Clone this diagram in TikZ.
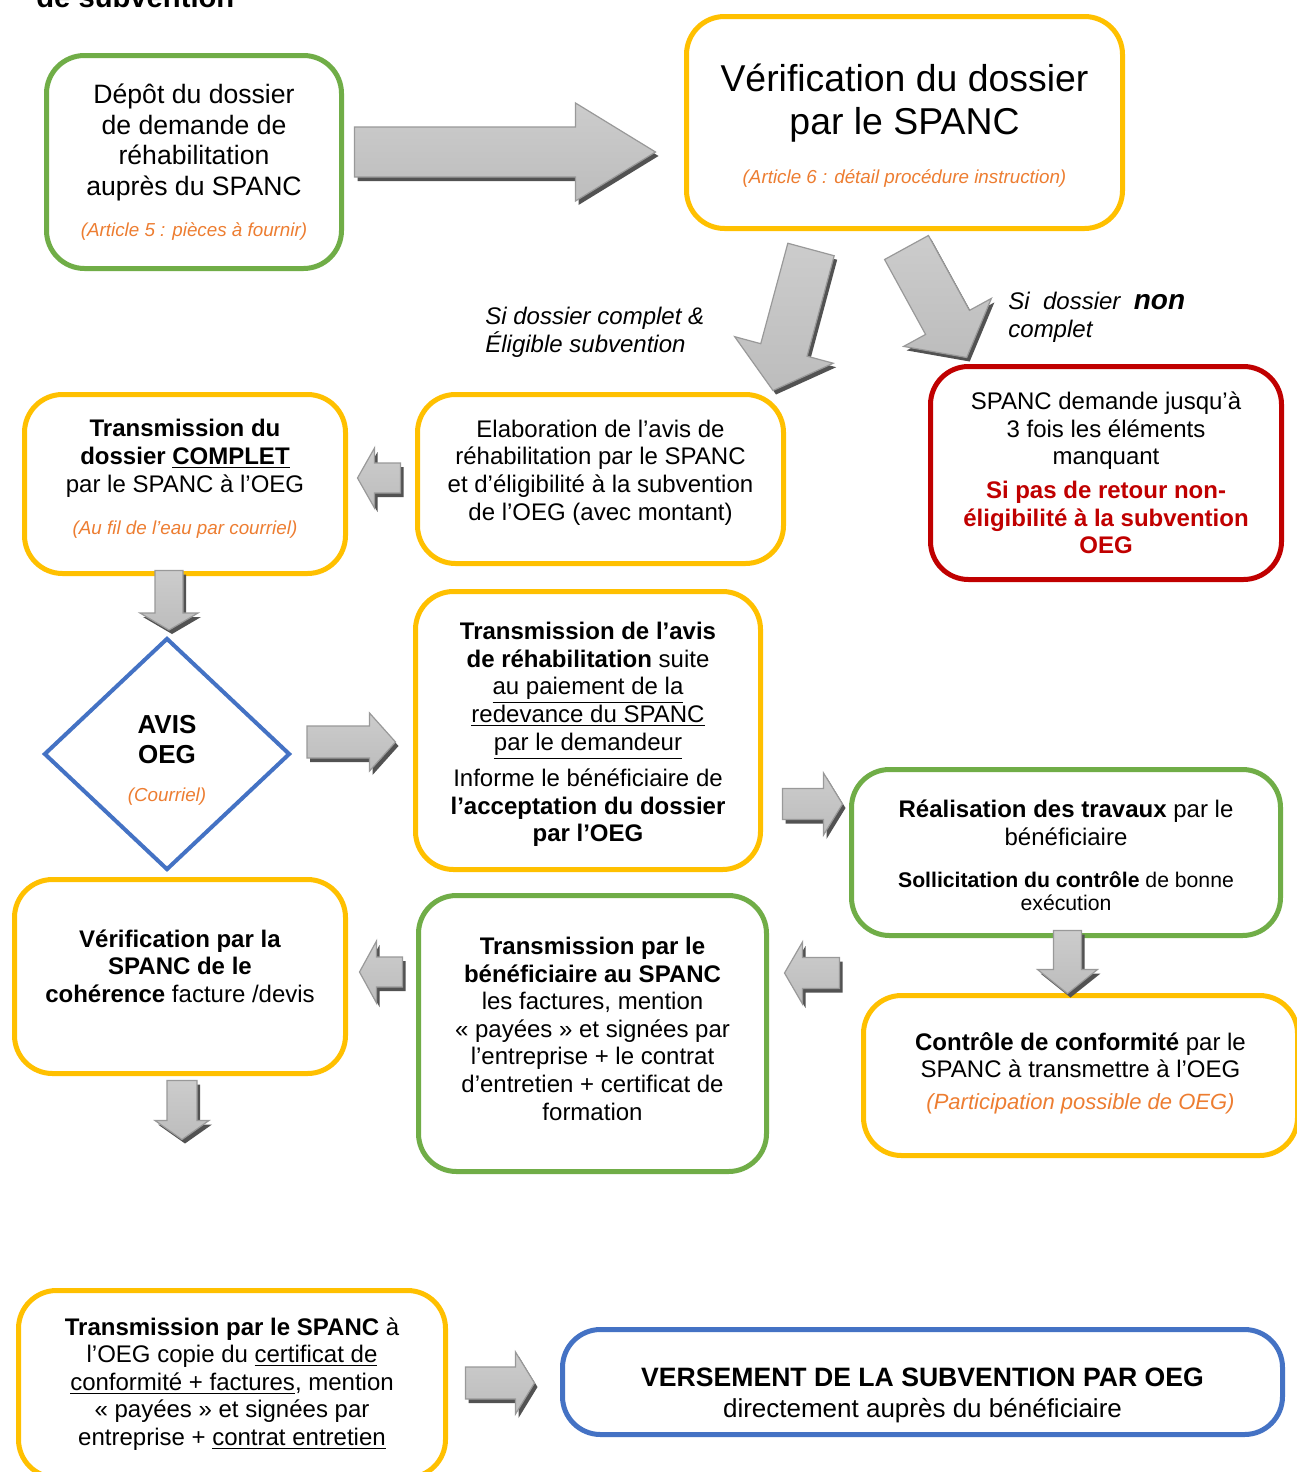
\documentclass[tikz,border=0pt]{standalone}
\usepackage{fontspec}
\setmainfont{Liberation Sans}
\usepackage{tikz}
\usetikzlibrary{calc,positioning,shapes.geometric}
\definecolor{spyellow}{HTML}{FFC000}
\definecolor{spgreen}{HTML}{70AD47}
\definecolor{spblue}{HTML}{4472C4}
\definecolor{spred}{HTML}{C00000}
\definecolor{sporange}{HTML}{ED7D31}
\tikzset{font=\fontsize{12}{13.8}\selectfont}
\tikzstyle{box}=[draw,line width=2.5pt,rounded corners=19pt,align=center,inner sep=2pt,fill=white]
\tikzstyle{ybox}=[box,draw=spyellow]
\tikzstyle{gbox}=[box,draw=spgreen]
\tikzstyle{bbox}=[box,draw=spblue]
\tikzstyle{rbox}=[box,draw=spred]
\tikzstyle{lbl}=[font=\itshape\fontsize{12}{14}\selectfont,align=left,inner sep=0pt]
\tikzstyle{arrowshadow}=[fill=black!68]
\tikzstyle{arrowbody}=[draw=black!40,line width=0.6pt,top color=black!20,middle color=black!36,bottom color=black!26]
\newcommand{\art}[1]{{\color{sporange}\mdseries\itshape\fontsize{9.4}{11}\selectfont #1}}
\newcommand{\rtxt}[1]{{\color{spred}\bfseries #1}}
% struts that move a text up or down in its box
\newcommand{\topht}[1]{\rule{0pt}{#1}}
\newcommand{\botdp}[1]{\rule[-#1]{0pt}{0pt}}
\newcommand{\bigarrow}[5]{%
  \coordinate (ah) at ($(#2)!#5!(#1)$);
  \fill[arrowshadow] ($(#1)!#3!90:(#2)+(1.5pt,-2pt)$) -- ($(ah)!#3!90:(#2)+(1.5pt,-2pt)$)
    -- ($(ah)!#4!90:(#2)+(1.5pt,-2pt)$) -- ($(#2)+(1.5pt,-2pt)$)
    -- ($(ah)!#4!-90:(#2)+(1.5pt,-2pt)$) -- ($(ah)!#3!-90:(#2)+(1.5pt,-2pt)$)
    -- ($(#1)!#3!-90:(#2)+(1.5pt,-2pt)$) -- cycle;
  \path[arrowbody] ($(#1)!#3!90:(#2)$) -- ($(ah)!#3!90:(#2)$) -- ($(ah)!#4!90:(#2)$) -- (#2)
    -- ($(ah)!#4!-90:(#2)$) -- ($(ah)!#3!-90:(#2)$) -- ($(#1)!#3!-90:(#2)$) -- cycle;
}

\begin{document}
\begin{tikzpicture}[x=0.5pt,y=-0.5pt]
\useasboundingbox (0,0) rectangle (1296,1472);
\fill[white] (0,0) rectangle (1296,1472);
\node[anchor=base west,inner sep=0pt,font=\bfseries\fontsize{14.6}{17}\selectfont] (titre) at (36,7) {de subvention};

\node[gbox,minimum width=147.5pt,minimum height=106.5pt,font=\fontsize{13.3}{15.3}\selectfont] (depot) at (194,162)
  {Dépôt du dossier\\de demande de\\réhabilitation\\auprès du SPANC\\[5pt]\art{(Article 5 : pièces à fournir)}};
\node[ybox,minimum width=218pt,minimum height=106pt,font=\fontsize{18.7}{21.5}\selectfont] (verif) at (904.5,122.5)
  {\topht{17pt}Vérification du dossier\\par le SPANC\\[3pt]\art{(Article 6 : détail procédure instruction)}};
\node[rbox,minimum width=175.5pt,minimum height=106.5pt] (manque) at (1106,473)
  {SPANC demande jusqu’à\\3 fois les éléments\\manquant\\[3pt]\rtxt{Si pas de retour non-}\\\rtxt{éligibilité à la subvention}\\\rtxt{OEG}};
\node[ybox,minimum width=183pt,minimum height=84.5pt] (elab) at (600.5,479)
  {Elaboration de l’avis de\\réhabilitation par le SPANC\\et d’éligibilité à la subvention\\de l’OEG (avec montant)\botdp{9pt}};
\node[ybox,minimum width=160.5pt,minimum height=89.5pt] (complet) at (185,484)
  {\textbf{Transmission du}\\\textbf{dossier \underline{COMPLET}}\\par le SPANC à l’OEG\\[7.5pt]\art{(Au fil de l’eau par courriel)}\botdp{7pt}};
\node[diamond,draw=spblue,line width=2pt,fill=white,inner sep=0pt,minimum width=123pt,minimum height=116pt,align=center,
  font=\bfseries\fontsize{13}{15}\selectfont] (avis) at (167,754) {\topht{15.3pt}AVIS\\OEG\\[4pt]\art{(Courriel)}};
\node[ybox,minimum width=172.5pt,minimum height=139pt] (transav) at (588,730.5)
  {\topht{12.8pt}\textbf{Transmission de l’avis}\\\textbf{de réhabilitation} suite\\\underline{au paiement de la}\\\underline{redevance du SPANC}\\\underline{par le demandeur}\\[4.5pt]Informe le bénéficiaire de\\\textbf{l’acceptation du dossier}\\\textbf{par l’OEG}};
\node[gbox,minimum width=214.5pt,minimum height=83pt] (realis) at (1066,852.5)
  {\topht{11.9pt}\textbf{Réalisation des travaux} par le\\bénéficiaire\\[7pt]{\fontsize{10.6}{12}\selectfont\textbf{Sollicitation du contrôle} de bonne}\\[-2pt]{\fontsize{10.6}{12}\selectfont exécution}};
\node[ybox,minimum width=217pt,minimum height=80pt] (controle) at (1080.5,1075.5)
  {\textbf{Contrôle de conformité} par le\\SPANC à transmettre à l’OEG\\[2pt]{\color{sporange}\itshape\fontsize{11}{13}\selectfont (Participation possible de OEG)}\botdp{4.8pt}};
\node[gbox,minimum width=174pt,minimum height=138pt] (transben) at (592.5,1033.5)
  {\textbf{Transmission par le}\\\textbf{bénéficiaire au SPANC}\\les factures, mention\\« payées » et signées par\\l’entreprise + le contrat\\d’entretien + certificat de\\formation\botdp{5pt}};
\node[ybox,minimum width=165.5pt,minimum height=97pt] (verifsp) at (180,976.5)
  {\textbf{Vérification par la}\\\textbf{SPANC de le}\\\textbf{cohérence} facture /devis\botdp{10.4pt}};
\node[ybox,minimum width=213.5pt,minimum height=93.5pt] (transfin) at (232,1384)
  {\textbf{Transmission par le SPANC} à\\l’OEG copie du \underline{certificat de}\\\underline{conformité + factures}, mention\\« payées » et signées par\\entreprise + \underline{contrat entretien}};
\node[bbox,minimum width=360pt,minimum height=52.5pt,font=\fontsize{13.3}{15.5}\selectfont] (versement) at (922.5,1382)
  {\topht{22.6pt}\textbf{VERSEMENT DE LA SUBVENTION PAR OEG}\\{\fontsize{13}{15.5}\selectfont directement auprès du bénéficiaire}};

\node[lbl,anchor=west] (oui) at (485,332) {Si dossier complet \&\\Éligible subvention};
\node[lbl,anchor=west] (non) at (1008,317) {Si\ \ dossier\ \ {\bfseries\fontsize{14}{14}\selectfont non}\\complet};

\coordinate (a1s) at ($(depot.east)+(10.5,-10)$);
\coordinate (a1e) at ($(verif.west)+(-28.5,29.5)$);
\coordinate (a2s) at ($(verif.south)+(-93.5,18.5)$);
\coordinate (a2e) at ($(elab.north)+(172.5,-1.5)$);
\coordinate (a3s) at ($(verif.south)+(2,16.5)$);
\coordinate (a3e) at ($(manque.north)+(-139.3,-6.5)$);
\coordinate (a4s) at ($(elab.west)+(-14.5,-1)$);
\coordinate (a4e) at ($(complet.east)+(9.5,-6)$);
\coordinate (a5s) at ($(complet.south)+(-16,-5.5)$);
\coordinate (a5e) at ($(avis.north)+(2,-6)$);
\coordinate (a6s) at ($(avis.east)+(15,-12)$);
\coordinate (a6e) at ($(transav.west)+(-17.5,11.5)$);
\coordinate (a7s) at ($(transav.east)+(19.5,73.5)$);
\coordinate (a7e) at ($(realis.west)+(-6.5,-48.5)$);
\coordinate (a8s) at ($(realis.south)+(1.5,-7.5)$);
\coordinate (a8e) at ($(controle.north)+(-13,0.5)$);
\coordinate (a9s) at ($(controle.west)+(-21.5,-102.5)$);
\coordinate (a9e) at ($(transben.east)+(15.5,-60.5)$);
\coordinate (a10s) at ($(transben.west)+(-13.5,-61.5)$);
\coordinate (a10e) at ($(verifsp.east)+(11.5,-4.5)$);
\coordinate (a11s) at ($(verifsp.south)+(2,4.5)$);
\coordinate (a11e) at ($(verifsp.south)+(2,63.5)$);
\coordinate (a12s) at ($(transfin.east)+(17.5,-1)$);
\coordinate (a12e) at ($(versement.west)+(-25.5,1)$);

\bigarrow{a1s}{a1e}{12.5pt}{24.5pt}{40pt}
\bigarrow{a2s}{a2e}{12pt}{25.5pt}{21pt}
\bigarrow{a3s}{a3e}{12.5pt}{25pt}{20pt}
\bigarrow{a4s}{a4e}{7.5pt}{15pt}{8.5pt}
\bigarrow{a5s}{a5e}{7pt}{14.5pt}{8.5pt}
\bigarrow{a6s}{a6e}{8pt}{14.5pt}{13pt}
\bigarrow{a7s}{a7e}{7.75pt}{15.5pt}{9.5pt}
\bigarrow{a8s}{a8e}{7pt}{15pt}{12pt}
\bigarrow{a9s}{a9e}{7.75pt}{15.5pt}{9pt}
\bigarrow{a10s}{a10e}{7.5pt}{15.5pt}{8.5pt}
\bigarrow{a11s}{a11e}{7.5pt}{13.5pt}{9.5pt}
\bigarrow{a12s}{a12e}{8pt}{15.5pt}{9.5pt}
\end{tikzpicture}
\end{document}
